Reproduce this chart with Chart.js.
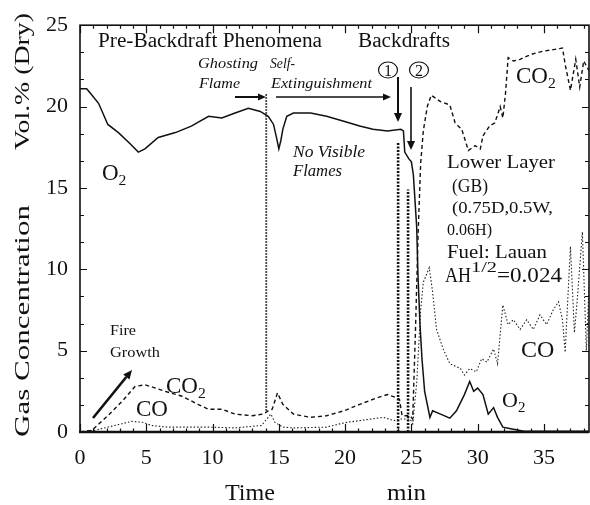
<!DOCTYPE html>
<html><head><meta charset="utf-8">
<script src="https://cdn.jsdelivr.net/npm/chart.js@4/dist/chart.umd.min.js"></script>
<style>html,body{margin:0;padding:0;background:#fff;}canvas{display:block;}
#probe{position:absolute;left:-999px;top:0;font-family:"Liberation Serif";font-size:20px;}
#probe2{position:absolute;left:-999px;top:30px;font-family:"Liberation Serif";font-style:italic;font-size:20px;}</style>
</head><body>
<span id="probe">Gas Concentration 0123</span><span id="probe2">Ghosting</span>
<canvas id="c" width="590" height="505"></canvas>
<script>
// ---- data (time in min, concentration in vol.%) ----
const xTickValues = [0, 5, 10, 15, 20, 25, 30, 35];
const yTickValues = [0, 5, 10, 15, 20, 25];

const o2Time = [0,0.5,0.8,1.4,2.1,2.9,3.8,4.4,4.9,5.9,7.2,8.4,9.7,10.7,11.7,12.7,13.6,14.2,14.6,14.85,15.0,15.15,15.3,15.6,16.1,17.4,18.6,19.9,21.1,22.1,23.2,24.2,24.4,24.5,24.8,25.0,25.15,25.4,25.5,25.65,25.8,26.0,26.4,26.6,27.2,27.9,28.4,29.0,29.4,29.7,30.0,30.4,30.8,31.2,31.5,31.9,32.5,33.5,38.4];
const o2Values = [21.1,21.1,20.8,20.2,18.9,18.4,17.7,17.2,17.4,18.1,18.4,18.8,19.4,19.3,19.6,19.9,19.7,19.4,18.9,18.0,17.4,17.9,18.6,19.4,19.6,19.6,19.4,19.1,18.8,18.6,18.5,18.6,18.5,17.2,16.8,16.6,15.8,12.6,9.6,6.6,4.5,2.5,0.9,1.3,1.1,0.85,1.3,2.3,3.1,2.5,2.7,2.3,1.1,1.5,0.9,0.3,0.2,0.05,0.05];

const co2Time = [0,0.9,2.1,3.2,4.15,4.9,5.7,6.4,7.7,8.9,9.7,10.7,11.7,13.0,13.8,14.2,14.5,14.9,15.3,16.1,17.4,18.6,19.9,21.1,22.4,23.2,23.9,24.1,24.3,24.9,25.1,25.3,25.5,25.7,25.9,26.2,26.5,27.2,27.9,28.3,28.8,29.3,29.8,30.2,30.4,30.9,31.3,31.7,31.9,32.1,32.3,32.7,33.2,34.0,34.9,35.7,36.4,36.6,37.0,37.4,37.7,38.0,38.4];
const co2Values = [0,0.1,1.0,1.9,2.8,2.9,2.7,2.5,2.2,1.7,1.4,1.4,1.1,1.0,1.1,1.3,1.4,2.4,1.7,1.1,0.9,1.0,1.3,1.7,2.1,2.3,2.1,2.0,1.0,1.0,0.8,6.0,12.0,16.5,18.5,20.0,20.7,20.3,20.1,19.0,18.6,17.3,17.6,17.4,18.2,18.8,19.0,20.0,19.3,20.8,23.0,22.8,22.9,23.2,23.4,23.5,23.6,22.6,21.0,22.9,21.2,22.8,22.2];

const coTime = [0,1.1,2.6,3.9,4.7,5.4,6.6,7.9,9.7,11.7,13.7,14.1,14.4,14.7,15.3,16.1,18.6,19.6,20.2,21.1,22.4,22.9,23.7,24.1,24.9,25.1,25.4,25.7,25.9,26.2,26.35,26.6,26.9,27.4,27.9,28.7,29.0,29.4,29.9,30.3,30.7,31.2,31.5,31.9,32.3,32.7,33.2,33.7,34.2,34.7,35.2,35.7,36.1,36.4,36.6,37.0,37.3,37.5,37.9,38.2,38.4];
const coValues = [0,0.1,0.4,0.65,0.6,0.4,0.3,0.3,0.3,0.25,0.4,0.8,1.1,0.6,0.3,0.25,0.3,0.5,0.6,0.7,0.85,0.9,0.7,0.8,0.8,0.5,3.0,7.5,9.2,9.8,10.1,8.6,6.3,5.1,4.2,3.9,3.5,3.9,3.7,4.5,4.3,5.1,4.2,7.8,6.6,6.9,6.3,6.9,6.3,7.2,6.6,7.5,8.0,6.9,4.9,11.4,6.1,8.0,12.3,5.0,9.0];

// short transient spikes (vertical traces)
const spikeATime = [14.05, 14.05]; const spikeAValues = [1.3, 20.8];
const spikeBTime = [24.0, 24.0];   const spikeBValues = [0, 17.8];
const spikeCTime = [24.75, 24.75]; const spikeCValues = [0, 14.9];

function pts(t, v) { return t.map((x, i) => ({ x: x, y: v[i] })); }

const FONT = '"Liberation Serif"';

function txt(ctx, s, x, y, size, opt) {
  opt = opt || {};
  ctx.save();
  ctx.font = (opt.italic ? 'italic ' : '') + size + 'px ' + FONT;
  ctx.textAlign = 'left'; ctx.textBaseline = 'alphabetic';
  ctx.fillStyle = '#111';
  const w0 = ctx.measureText(s).width;
  const sx = opt.w ? opt.w / w0 : (opt.sx || 1);
  ctx.translate(x, y); ctx.scale(sx, 1);
  ctx.fillText(s, 0, 0);
  ctx.restore();
  return w0 * sx;
}
function chem(ctx, base, sub, x, y, size) {
  const w = txt(ctx, base, x, y, size);
  txt(ctx, sub, x + w, y + size * 0.22, size * 0.68);
}
function arrow(ctx, x1, y1, x2, y2, lw, head) {
  ctx.save();
  ctx.strokeStyle = '#111'; ctx.fillStyle = '#111'; ctx.lineWidth = lw;
  const a = Math.atan2(y2 - y1, x2 - x1);
  const bx = x2 - head * Math.cos(a), by = y2 - head * Math.sin(a);
  ctx.beginPath(); ctx.moveTo(x1, y1); ctx.lineTo(bx, by); ctx.stroke();
  ctx.beginPath();
  ctx.moveTo(x2, y2);
  ctx.lineTo(bx + head * 0.45 * Math.sin(a), by - head * 0.45 * Math.cos(a));
  ctx.lineTo(bx - head * 0.45 * Math.sin(a), by + head * 0.45 * Math.cos(a));
  ctx.closePath(); ctx.fill();
  ctx.restore();
}
function vtext(ctx, s, x, y, size, len) {
  ctx.save();
  ctx.fillStyle = '#111';
  ctx.font = size + 'px ' + FONT;
  const w = ctx.measureText(s).width;
  ctx.translate(x, y); ctx.rotate(-Math.PI / 2); ctx.scale(len / w, 1);
  ctx.fillText(s, 0, 0);
  ctx.restore();
}

const decor = {
  id: 'decor',
  afterDatasetsDraw(chart) {
    const ctx = chart.ctx;
    const ca = chart.chartArea;
    const xs = chart.scales.x, ys = chart.scales.y;
    ctx.save();
    ctx.strokeStyle = '#111';
    ctx.lineWidth = 1.6;
    ctx.strokeRect(ca.left, ca.top, ca.right - ca.left, ca.bottom - ca.top);
    ctx.lineWidth = 2.6;
    ctx.beginPath(); ctx.moveTo(ca.left - 1, ca.bottom); ctx.lineTo(ca.right, ca.bottom); ctx.stroke();
    ctx.lineWidth = 1.2;
    for (let t = 0; t <= xs.max; t += 1) {
      const px = Math.round(xs.getPixelForValue(t)) + 0.5;
      const L = (t % 5 === 0) ? 8 : 3.5;
      ctx.beginPath();
      ctx.moveTo(px, ca.top); ctx.lineTo(px, ca.top + L);
      ctx.moveTo(px, ca.bottom); ctx.lineTo(px, ca.bottom - L);
      ctx.stroke();
    }
    for (let k = 0; k <= 15; k++) {
      const v = k * 5 / 3;
      const py = Math.round(ys.getPixelForValue(v)) + 0.5;
      const L = (k % 3 === 0) ? 7 : 4;
      ctx.beginPath();
      ctx.moveTo(ca.left, py); ctx.lineTo(ca.left + L, py);
      ctx.moveTo(ca.right, py); ctx.lineTo(ca.right - L, py);
      ctx.stroke();
    }
    ctx.restore();

    vtext(ctx, 'Gas Concentration', 29, 437, 22, 232);
    vtext(ctx, 'Vol.% (Dry)', 29, 150, 22, 137);
    txt(ctx, 'Time', 225, 500, 23, { w: 50 });
    txt(ctx, 'min', 387, 500, 23, { w: 39 });

    txt(ctx, 'Pre-Backdraft Phenomena', 98, 47, 20, { w: 224 });
    txt(ctx, 'Backdrafts', 358, 47, 20, { w: 92 });
    txt(ctx, 'Ghosting', 198, 68, 15, { italic: true, w: 60 });
    txt(ctx, 'Flame', 199, 88, 15, { italic: true, w: 41 });
    txt(ctx, 'Self-', 270, 68, 15, { italic: true, w: 25 });
    txt(ctx, 'Extinguishment', 271, 88, 15, { italic: true, w: 101 });
    txt(ctx, 'No Visible', 293, 157, 16, { italic: true, w: 72 });
    txt(ctx, 'Flames', 293, 176, 16, { italic: true, w: 49 });
    arrow(ctx, 235, 97, 266, 97, 2, 8);
    arrow(ctx, 276, 97, 391, 97, 1.6, 8);
    ctx.save();
    ctx.strokeStyle = '#111'; ctx.lineWidth = 1.2;
    ctx.beginPath(); ctx.ellipse(388, 70, 9.5, 8, 0, 0, Math.PI * 2); ctx.stroke();
    ctx.beginPath(); ctx.ellipse(419, 70, 9.5, 8, 0, 0, Math.PI * 2); ctx.stroke();
    ctx.restore();
    txt(ctx, '1', 384, 76, 16);
    txt(ctx, '2', 415, 76, 16);
    arrow(ctx, 398, 77, 398, 122, 2, 9);
    arrow(ctx, 411, 87, 411, 150, 1.6, 9);

    chem(ctx, 'O', '2', 102, 180, 23);
    chem(ctx, 'CO', '2', 516, 83, 23);
    txt(ctx, 'Lower Layer', 447, 168, 19, { w: 108 });
    txt(ctx, '(GB)', 452, 192, 19, { w: 36 });
    txt(ctx, '(0.75D,0.5W,', 452, 213, 16, { w: 101 });
    txt(ctx, '0.06H)', 447, 235, 16, { w: 45 });
    txt(ctx, 'Fuel: Lauan', 447, 258, 19, { w: 100 });
    const wa = txt(ctx, 'AH', 445, 282, 20, { w: 26 });
    txt(ctx, '1/2', 445 + wa, 272, 14, { w: 26 });
    txt(ctx, '=0.024', 497, 282, 20, { w: 65 });
    txt(ctx, 'CO', 521, 357, 24);
    chem(ctx, 'O', '2', 502, 407, 22);
    txt(ctx, 'Fire', 110, 335, 14, { w: 26 });
    txt(ctx, 'Growth', 110, 357, 14, { w: 50 });
    arrow(ctx, 93, 418, 132, 370, 2.6, 9);
    chem(ctx, 'CO', '2', 166, 393, 23);
    txt(ctx, 'CO', 136, 416, 23);
  }
};

function build() {
  new Chart(document.getElementById('c'), {
    type: 'line',
    data: {
      datasets: [
        { label: 'O2', data: pts(o2Time, o2Values), borderColor: '#111', borderWidth: 1.5 },
        { label: 'CO2', data: pts(co2Time, co2Values), borderColor: '#111', borderWidth: 1.4, borderDash: [4, 3] },
        { label: 'CO', data: pts(coTime, coValues), borderColor: '#222', borderWidth: 1.1, borderDash: [1.5, 2] },
        { label: 'spikeA', data: pts(spikeATime, spikeAValues), borderColor: '#111', borderWidth: 1.8, borderDash: [1.5, 1.5] },
        { label: 'spikeB', data: pts(spikeBTime, spikeBValues), borderColor: '#111', borderWidth: 2.6, borderDash: [2, 1.5] },
        { label: 'spikeC', data: pts(spikeCTime, spikeCValues), borderColor: '#111', borderWidth: 2.6, borderDash: [2, 1.5] }
      ]
    },
    options: {
      responsive: false,
      animation: false,
      devicePixelRatio: 1,
      elements: { point: { radius: 0 }, line: { tension: 0, fill: false } },
      layout: { padding: { left: 0, right: 1, top: 19, bottom: 0 } },
      plugins: { legend: { display: false }, tooltip: { enabled: false } },
      scales: {
        x: {
          type: 'linear', min: 0, max: 38.4,
          afterBuildTicks: (sc) => { sc.ticks = xTickValues.map(v => ({ value: v })); },
          afterFit: (sc) => { sc.height = 73; },
          grid: { display: false, drawTicks: false },
          border: { display: false },
          ticks: { padding: 13, color: '#111', font: { family: FONT, size: 22 }, maxRotation: 0, autoSkip: false }
        },
        y: {
          type: 'linear', min: 0, max: 25,
          afterBuildTicks: (sc) => { sc.ticks = yTickValues.map(v => ({ value: v })); },
          afterFit: (sc) => { sc.width = 80; },
          grid: { display: false, drawTicks: false },
          border: { display: false },
          ticks: { padding: 12, color: '#111', font: { family: FONT, size: 22 } }
        }
      }
    },
    plugins: [decor]
  });
}
const loads = [
  document.fonts.load('20px "Liberation Serif"', 'Gas 0123'),
  document.fonts.load('italic 20px "Liberation Serif"', 'Ghosting')
];
Promise.all(loads).then(build, build);
</script>
</body></html>
